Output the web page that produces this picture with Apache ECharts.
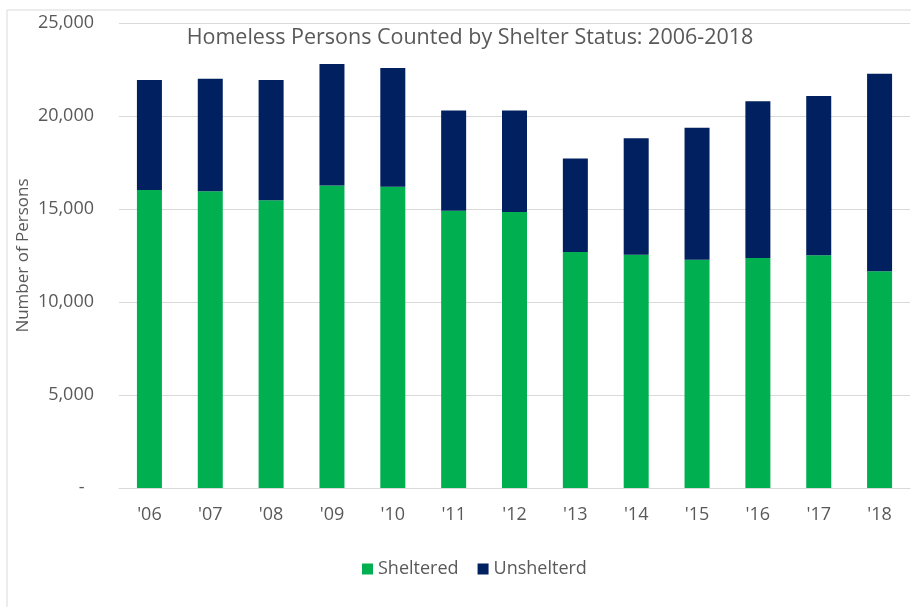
<!DOCTYPE html>
<html>
<head>
<meta charset="utf-8">
<script src="https://cdn.jsdelivr.net/npm/echarts@6/dist/echarts.min.js"></script>
<style>
  html, body { margin: 0; padding: 0; background: #fff; }
  #chart { width: 911px; height: 607px; }
</style>
</head>
<body>
<div id="chart"></div>
<script>
// years and counts
var years = ["'06", "'07", "'08", "'09", "'10", "'11", "'12", "'13", "'14", "'15", "'16", "'17", "'18"];
var sheltered = [16020, 15950, 15470, 16270, 16200, 14900, 14840, 12690, 12540, 12270, 12370, 12510, 11650];
var unsheltered = [5920, 6050, 6470, 6530, 6380, 5400, 5460, 5030, 6260, 7100, 8420, 8570, 10620];
var yTicks = [0, 5000, 10000, 15000, 20000, 25000];

var myChart = echarts.init(document.getElementById('chart'));

var textColor = '#595959';
var fontName = 'Open Sans';

option = {
  animation: false,
  title: {
    text: 'Homeless Persons Counted by Shelter Status: 2006-2018',
    left: 465,
    textAlign: 'center',
    top: 22,
    textStyle: {
      color: textColor,
      fontFamily: fontName,
      fontSize: 21.5,
      fontWeight: 'normal'
    }
  },
  graphic: [
    {
      type: 'polyline',
      shape: { points: [[7, 607], [7, 10], [911, 10]] },
      style: { stroke: '#d9d9d9', lineWidth: 1, fill: null }
    }
  ],
  legend: {
    top: 555,
    left: 357,
    itemWidth: 11,
    itemHeight: 11,
    itemGap: 19,
    icon: 'rect',
    textStyle: { color: textColor, fontFamily: fontName, fontSize: 18 },
    data: ['Sheltered', 'Unshelterd']
  },
  grid: {
    left: 119,
    right: 1,
    top: 23,
    bottom: 119
  },
  xAxis: {
    type: 'category',
    data: years,
    axisTick: { show: false },
    axisLine: { lineStyle: { color: '#d9d9d9' } },
    axisLabel: {
      color: textColor,
      fontFamily: fontName,
      fontSize: 18,
      margin: 18
    }
  },
  yAxis: {
    type: 'value',
    min: yTicks[0],
    max: yTicks[yTicks.length - 1],
    interval: 5000,
    name: 'Number of Persons',
    nameLocation: 'middle',
    nameGap: 87,
    nameMoveOverlap: false,
    nameTextStyle: { color: textColor, fontFamily: fontName, fontSize: 17 },
    axisLine: { show: false },
    axisTick: { show: false },
    splitLine: { lineStyle: { color: '#d9d9d9' } },
    axisLabel: {
      color: textColor,
      fontFamily: fontName,
      fontSize: 18,
      margin: 25,
      formatter: function (v) {
        if (v === 0) return '-  ';
        return v.toLocaleString('en-US');
      }
    }
  },
  series: [
    {
      name: 'Sheltered',
      type: 'bar',
      stack: 'total',
      barWidth: 25,
      itemStyle: { color: '#00b050' },
      data: sheltered
    },
    {
      name: 'Unshelterd',
      type: 'bar',
      stack: 'total',
      barWidth: 25,
      itemStyle: { color: '#002060' },
      data: unsheltered
    }
  ]
};
myChart.setOption(option);
window.addEventListener('resize', function () {
  myChart.resize();
});
</script>
</body>
</html>
